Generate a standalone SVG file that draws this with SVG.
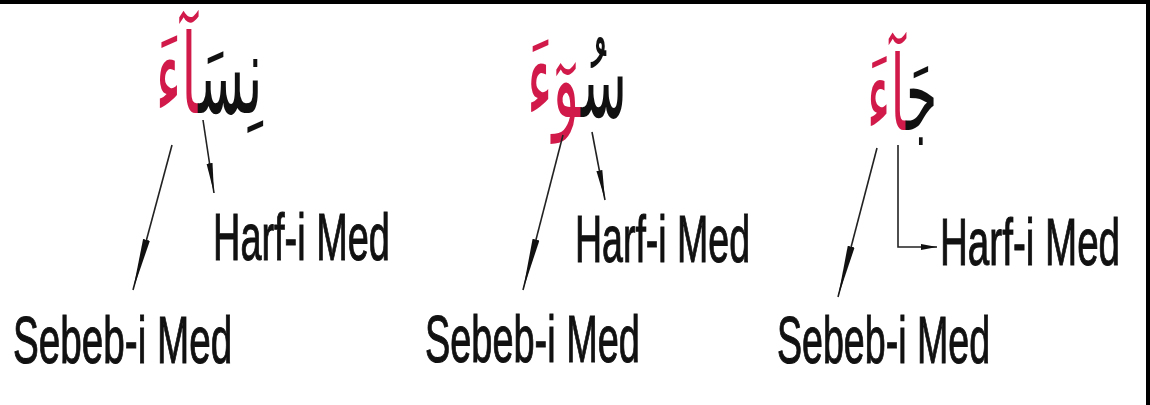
<svg xmlns="http://www.w3.org/2000/svg" width="1150" height="405" viewBox="0 0 1150 405">
<style>
.ar{font-family:"DejaVu Sans",sans-serif;font-size:110px;fill:#111;}
.red{fill:#d11a4a;}
.lbl{font-family:"Liberation Sans",Arial,sans-serif;font-size:67px;fill:#111;stroke:#111;stroke-width:1.1;}
.ln{stroke:#222;stroke-width:1.6;fill:none;}
</style>
<defs>
<marker id="ahL" markerUnits="userSpaceOnUse" viewBox="0 0 52 10" markerWidth="52" markerHeight="10" refX="52" refY="5" orient="auto"><path d="M0,1.5 L52,5 L0,8.5 z" fill="#111"/></marker>
<marker id="ahM" markerUnits="userSpaceOnUse" viewBox="0 0 30 8" markerWidth="30" markerHeight="8" refX="30" refY="4" orient="auto"><path d="M0,1 L30,4 L0,7 z" fill="#111"/></marker>
<marker id="ahS" markerUnits="userSpaceOnUse" viewBox="0 0 16 8" markerWidth="16" markerHeight="8" refX="16" refY="4" orient="auto"><path d="M0,1 L16,4 L0,7 z" fill="#111"/></marker>
</defs>
<rect x="0" y="0" width="1150" height="4" fill="#000"/>
<rect x="1146" y="0" width="4" height="405" fill="#000"/>
<g id="word1"><text class="ar" transform="translate(209,113) scale(0.5,1)" x="0" y="0" text-anchor="middle" direction="rtl"><tspan>نِسَ</tspan><tspan class="red">آءَ</tspan></text></g>
<g id="word2"><text class="ar" transform="translate(577,117) scale(0.5,1)" x="0" y="0" text-anchor="middle" direction="rtl"><tspan>سُ</tspan><tspan class="red">وٓءَ</tspan></text></g>
<g id="word3"><text class="ar" transform="translate(902,130) scale(0.46,0.95)" x="0" y="0" text-anchor="middle" direction="rtl"><tspan>جَ</tspan><tspan class="red">آءَ</tspan></text></g>
<g id="labels1">
<text class="lbl" transform="translate(213,260) scale(0.566,1)" x="0" y="0">Harf-i Med</text>
<text class="lbl" transform="translate(13,363) scale(0.577,1)" x="0" y="0">Sebeb-i Med</text>
</g>
<g id="labels2">
<text class="lbl" transform="translate(575,262) scale(0.56,1)" x="0" y="0">Harf-i Med</text>
<text class="lbl" transform="translate(425,362) scale(0.566,1)" x="0" y="0">Sebeb-i Med</text>
</g>
<g id="labels3">
<text class="lbl" transform="translate(940,265) scale(0.576,1)" x="0" y="0">Harf-i Med</text>
<text class="lbl" transform="translate(777,363) scale(0.561,1)" x="0" y="0">Sebeb-i Med</text>
</g>
<g id="connectors">
<line class="ln" x1="172" y1="145" x2="133" y2="290" marker-end="url(#ahL)"/>
<line class="ln" x1="203" y1="120" x2="214" y2="193" marker-end="url(#ahM)"/>
<line class="ln" x1="563" y1="135" x2="523" y2="290" marker-end="url(#ahL)"/>
<line class="ln" x1="592" y1="132" x2="605" y2="200" marker-end="url(#ahM)"/>
<line class="ln" x1="877" y1="148" x2="838" y2="297" marker-end="url(#ahL)"/>
<polyline class="ln" points="898,145 898,247 937,247" marker-end="url(#ahS)"/>
</g>
</svg>
